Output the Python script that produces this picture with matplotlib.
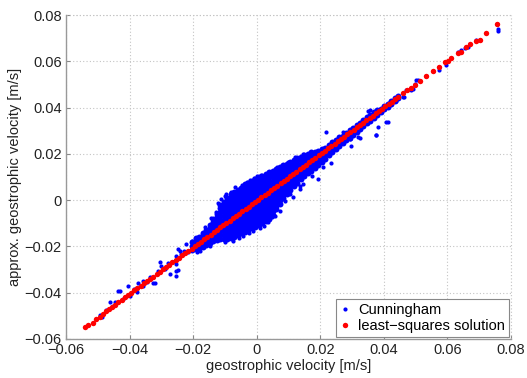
import matplotlib
matplotlib.use("Agg")
import matplotlib.pyplot as plt

# ---- data (values read in mm/s, converted to m/s below) ----
# dense central cloud of the "Cunningham" points, column by column: (x, [y values])
cloud_columns = [
    (-20.3, [-21.5, -19.8, -18.2]),
    (-19.2, [-21.0, -19.4, -17.6, -16.5]),
    (-18.1, [-20.6, -19.0, -17.3, -15.8]),
    (-17.0, [-20.2, -18.5, -16.8, -15.2, -14.0]),
    (-15.9, [-19.5, -17.8, -16.2, -14.5, -12.8]),
    (-14.8, [-18.6, -17.0, -15.3, -13.7, -12.0, -10.6]),
    (-13.7, [-17.8, -16.1, -14.5, -12.8, -11.2, -9.6, -8.2]),
    (-12.6, [-17.2, -15.5, -13.9, -12.2, -10.5, -8.9, -7.3, -5.8]),
    (-11.5, [-16.8, -15.1, -13.4, -11.8, -10.1, -8.5, -6.8, -5.2, -3.6, -2.2]),
    (-10.4, [-16.9, -15.2, -13.5, -11.9, -10.2, -8.6, -6.9, -5.3, -3.7, -2.0, -0.6]),
    (-9.3, [-17.0, -15.3, -13.7, -12.0, -10.3, -8.7, -7.0, -5.4, -3.8, -2.1, -0.5, 1.1]),
    (-8.2, [-16.4, -14.8, -13.1, -11.5, -9.8, -8.2, -6.5, -4.9, -3.2, -1.6, 0.0, 1.6, 2.8]),
    (-7.1, [-15.8, -14.2, -12.5, -10.9, -9.2, -7.6, -5.9, -4.3, -2.6, -1.0, 0.6, 2.2, 3.7]),
    (-6.0, [-15.1, -13.5, -11.8, -10.2, -8.5, -6.9, -5.2, -3.6, -1.9, -0.3, 1.3, 2.9, 4.4]),
    (-4.9, [-14.4, -12.8, -11.1, -9.5, -7.8, -6.2, -4.5, -2.9, -1.2, 0.4, 2.0, 3.6, 5.1]),
    (-3.8, [-13.6, -12.0, -10.4, -8.7, -7.1, -5.4, -3.8, -2.1, -0.5, 1.1, 2.7, 4.3, 5.8, 7.0]),
    (-2.7, [-12.9, -11.3, -9.6, -8.0, -6.3, -4.7, -3.0, -1.4, 0.2, 1.8, 3.4, 5.0, 6.5, 7.6]),
    (-1.6, [-12.2, -10.6, -8.9, -7.3, -5.6, -4.0, -2.3, -0.7, 0.9, 2.5, 4.1, 5.7, 7.2, 8.3]),
    (-0.5, [-11.4, -9.8, -8.1, -6.5, -4.8, -3.2, -1.5, 0.1, 1.7, 3.3, 4.9, 6.5, 8.0, 9.0]),
    (0.6, [-10.6, -9.0, -7.3, -5.7, -4.0, -2.4, -0.7, 0.9, 2.5, 4.1, 5.7, 7.3, 8.8, 9.9]),
    (1.7, [-9.8, -8.2, -6.5, -4.9, -3.2, -1.6, 0.1, 1.7, 3.3, 4.9, 6.5, 8.1, 9.6, 10.6]),
    (2.8, [-9.0, -7.4, -5.7, -4.1, -2.4, -0.8, 0.9, 2.5, 4.1, 5.7, 7.3, 8.9, 10.4, 11.3]),
    (3.9, [-8.0, -6.4, -4.7, -3.1, -1.4, 0.2, 1.9, 3.5, 5.1, 6.7, 8.3, 9.9, 11.3, 12.2]),
    (5.0, [-6.5, -4.9, -3.2, -1.6, 0.1, 1.7, 3.4, 5.0, 6.6, 8.2, 9.8, 11.4, 12.8]),
    (6.1, [-4.0, -2.4, -0.7, 0.9, 2.6, 4.2, 5.9, 7.5, 9.1, 10.7, 12.3, 13.5]),
    (7.2, [-1.5, 0.1, 1.8, 3.4, 5.1, 6.7, 8.4, 10.0, 11.6, 13.2, 14.2]),
    (8.3, [0.8, 2.4, 4.1, 5.7, 7.4, 9.0, 10.7, 12.3, 13.9, 15.0]),
    (9.4, [2.6, 4.2, 5.9, 7.5, 9.2, 10.8, 12.5, 14.1, 15.6]),
    (10.5, [4.3, 5.9, 7.6, 9.2, 10.9, 12.5, 14.2, 15.8, 16.6]),
    (11.6, [6.0, 7.6, 9.3, 10.9, 12.6, 14.2, 15.9, 17.4]),
    (12.7, [7.5, 9.1, 10.8, 12.4, 14.1, 15.7, 17.3, 18.4]),
    (13.8, [9.0, 10.6, 12.3, 13.9, 15.6, 17.2, 18.8]),
    (14.9, [10.3, 11.9, 13.6, 15.2, 16.9, 18.5, 19.7]),
    (16.0, [11.6, 13.2, 14.9, 16.5, 18.2, 19.8]),
    (17.1, [12.8, 14.4, 16.1, 17.7, 19.4, 20.6]),
    (18.2, [14.0, 15.6, 17.3, 18.9, 20.6]),
    (19.3, [15.2, 16.8, 18.5, 20.1, 21.4]),
    (20.4, [16.5, 18.1, 19.8, 21.4, 22.3]),
    (21.5, [17.8, 19.4, 21.1, 22.6]),
    (22.6, [19.5, 21.1, 22.8, 23.9]),
    (23.7, [20.8, 22.4, 24.1, 25.0]),
    (24.8, [22.0, 23.6, 25.3, 26.2]),
    (25.9, [23.2, 24.8, 26.4, 27.4]),
    (27.0, [24.6, 26.2, 27.8]),
    (28.1, [25.8, 27.4, 28.9]),
    (29.2, [27.0, 28.6, 30.1]),
    (30.3, [28.2, 29.8, 31.3]),
    (31.4, [29.6, 31.0, 32.4]),
    (32.5, [30.8, 32.2, 33.5]),
    (33.6, [32.0, 33.4, 34.6]),
    (34.7, [33.2, 34.6, 35.8]),
    (35.8, [34.3, 35.7, 36.9]),
    (36.9, [35.6, 36.9, 38.0]),
    (38.0, [36.8, 38.1, 39.1]),
    (39.1, [38.0, 39.3]),
    (40.2, [39.2, 40.5]),
    (41.3, [40.4, 41.6]),
    (42.4, [41.6, 42.8]),
    (43.5, [42.8, 44.0]),
    (44.6, [44.0, 45.2]),
]

# scattered "Cunningham" points outside the dense cloud (x, y) in mm/s
outlier_points = [
    (-20.5, -17.5), (-20.0, -19.7), (-22.1, -18.9), (-23.7, -23.3), (-24.7, -21.1),
    (-25.3, -24.0), (-25.8, -26.2), (-26.8, -26.9), (-25.3, -27.6), (-27.4, -31.9),
    (-25.3, -32.7), (-25.3, -30.5), (-30.5, -26.9), (-30.0, -28.3), (-31.0, -30.5),
    (-32.1, -35.6), (-35.8, -34.8), (-35.8, -37.0), (-37.3, -35.6), (-40.5, -37.0),
    (-37.8, -39.9), (-43.1, -39.4), (-39.9, -41.3), (-46.2, -43.9), (-44.7, -44.2),
    (-48.8, -50.7), (-49.4, -49.7), (-43.6, -39.1), (-32.6, -35.6), (-24.7, -30.2),
    (-24.2, -21.8), (-17.9, -21.8), (-14.8, -19.7), (-13.2, -13.2), (-11.6, -9.6),
    (-22.8, -21.9), (-21.6, -22.6), (-27.9, -27.3), (-29.0, -29.9), (-33.5, -33.1),
    (-34.4, -35.3), (-38.6, -38.2), (-41.7, -42.5), (-45.3, -45.6), (-47.4, -47.3),
    (-11.1, 0.5), (-8.0, 3.4), (-9.5, 2.6), (-6.9, 5.6), (-5.3, 4.8), (-3.2, 7.7),
    (-1.0, 9.6), (1.2, 10.9), (-14.3, -7.9), (-12.9, -5.0), (-16.4, -11.6),
    (-7.6, -17.6), (-4.2, -15.3), (-1.1, -13.2), (2.3, -11.0), (-18.7, -22.6),
    (-12.2, -1.4), (-10.0, 1.9), (-4.6, 6.4), (-2.2, 8.6), (0.2, 10.3),
    (-9.9, -18.1), (-5.6, -16.4), (-2.4, -14.2), (0.9, -12.0), (3.4, -9.6),
    (5.7, -6.7), (4.8, -7.1), (7.3, -4.5), (8.8, -0.2), (10.4, 2.8), (11.4, 1.2),
    (13.5, 4.8), (14.6, 7.0), (19.3, 9.2), (11.3, 7.7), (13.5, 6.3),
    (8.3, 14.9), (9.8, 16.3), (14.6, 20.0), (16.2, 20.0), (19.8, 21.4),
    (6.4, 14.4), (12.0, 18.6), (17.4, 10.6), (21.0, 14.3),
    (23.5, 16.1), (21.9, 29.6), (29.8, 23.3), (31.9, 27.2), (24.5, 25.7),
    (26.1, 25.0), (27.1, 29.3), (29.2, 26.5), (30.8, 30.1), (32.4, 26.9),
    (33.4, 32.2), (34.5, 34.4), (35.0, 38.7), (35.5, 39.0), (37.4, 28.2),
    (37.6, 28.3), (38.1, 31.8), (40.8, 33.7), (41.3, 33.7), (39.2, 38.7),
    (40.8, 40.1), (41.8, 42.3), (43.9, 43.0), (46.0, 44.5), (46.5, 44.5),
    (47.1, 47.4), (48.6, 47.4), (48.6, 48.5), (49.2, 48.1), (49.7, 50.3),
    (50.2, 51.7), (50.7, 51.7), (53.4, 53.8), (55.4, 56.0), (57.3, 56.4),
    (57.5, 57.4), (59.7, 58.2), (59.7, 59.6), (63.3, 63.9), (64.4, 64.7),
    (65.4, 65.7), (66.4, 66.1), (68.9, 69.0), (70.1, 69.0),
    (75.7, 76.2), (75.9, 74.0), (75.9, 73.0),
]

# least-squares solution points (mm/s)
lsq_x = [-54.1, -53.0, -51.5, -50.4, -49.4, -48.5, -47.5, -46.5, -45.5, -44.5,
         -43.5, -42.5, -41.5, -40.5, -39.5, -38.5, -37.5, -36.5, -35.5, -34.5,
         -33.5, -32.5, -31.5, -30.5, -29.5, -28.5, -27.5, -26.5, -25.5, -24.5,
         -23.5, -22.5, -21.5, -20.5, -19.5, -18.5, -17.5, -16.5, -15.5, -14.5,
         -13.5, -12.5, -11.5, -10.5, -9.5, -8.5, -7.5, -6.5, -5.5, -4.5,
         -3.5, -2.5, -1.5, -0.5, 0.5, 1.5, 2.5, 3.5, 4.5, 5.5,
         6.5, 7.5, 8.5, 9.5, 10.5, 11.5, 12.5, 13.5, 14.5, 15.5,
         16.5, 17.5, 18.5, 19.5, 20.5, 21.5, 22.5, 23.5, 24.5, 25.5,
         26.5, 27.5, 28.5, 29.5, 30.5, 31.5, 32.5, 33.5, 34.5, 35.5,
         36.5, 37.5, 38.5, 39.5, 40.5, 41.5, 42.5, 43.5, 44.5, 46.0,
         47.3, 48.5, 49.8, 51.5, 53.4, 55.4, 57.5, 59.1, 60.2, 61.2,
         63.3, 64.4, 65.9, 67.0, 69.1, 70.1, 72.0, 75.7]
lsq_y = [-55.0, -53.8, -52.9, -51.4, -50.4, -49.1, -48.1, -47.1, -46.1, -45.1,
         -44.1, -43.0, -42.0, -41.0, -40.0, -39.0, -38.0, -37.0, -36.0, -35.0,
         -34.0, -33.0, -32.0, -31.0, -29.9, -28.9, -27.9, -26.9, -25.9, -24.9,
         -23.9, -22.9, -21.9, -20.9, -19.9, -18.9, -17.9, -16.9, -15.9, -14.9,
         -13.8, -12.8, -11.8, -10.8, -9.8, -8.8, -7.8, -6.8, -5.8, -4.8,
         -3.8, -2.8, -1.8, -0.8, 0.25, 1.3, 2.3, 3.3, 4.3, 5.3,
         6.3, 7.3, 8.3, 9.3, 10.3, 11.3, 12.3, 13.3, 14.4, 15.4,
         16.4, 17.4, 18.4, 19.4, 20.4, 21.4, 22.4, 23.4, 24.4, 25.4,
         26.4, 27.4, 28.4, 29.5, 30.5, 31.5, 32.5, 33.5, 34.5, 35.5,
         36.5, 37.5, 38.5, 39.5, 40.5, 41.5, 42.5, 43.5, 44.6, 46.1,
         47.4, 48.6, 49.9, 51.6, 53.8, 56.0, 57.4, 59.5, 60.3, 61.3,
         63.5, 64.2, 66.1, 67.3, 68.9, 69.3, 72.1, 76.0]

x_ticks = [-0.06, -0.04, -0.02, 0, 0.02, 0.04, 0.06, 0.08]
y_ticks = [-0.06, -0.04, -0.02, 0, 0.02, 0.04, 0.06, 0.08]
x_tick_labels = ["\u22120.06", "\u22120.04", "\u22120.02", "0", "0.02", "0.04", "0.06", "0.08"]
y_tick_labels = ["\u22120.06", "\u22120.04", "\u22120.02", "0", "0.02", "0.04", "0.06", "0.08"]

# ---- build series ----
core_x, core_y = [], []
for cx, ys in cloud_columns:
    for yv in ys:
        core_x.append(cx * 1e-3)
        core_y.append(yv * 1e-3)
out_x = [p[0] * 1e-3 for p in outlier_points]
out_y = [p[1] * 1e-3 for p in outlier_points]
red_x = [v * 1e-3 for v in lsq_x]
red_y = [v * 1e-3 for v in lsq_y]

plt.rcParams['font.family'] = ['Liberation Sans', 'DejaVu Sans']
fig = plt.figure(figsize=(5.27, 3.78), dpi=100)
ax = fig.add_axes([0.1252, 0.1032, 0.8444, 0.8571])

BLUE = '#0000ff'
RED = '#ff0000'
ax.plot(core_x, core_y, linestyle='none', marker='o', markersize=4.3,
        color=BLUE, markeredgewidth=0)
ax.plot(out_x, out_y, linestyle='none', marker='o', markersize=3.0,
        color=BLUE, markeredgewidth=0, label='Cunningham')
ax.plot(red_x, red_y, linestyle='none', marker='o', markersize=3.9,
        color=RED, markeredgewidth=0, label='least\u2212squares solution')

ax.set_xlim(-0.06, 0.08)
ax.set_ylim(-0.06, 0.08)
ax.set_xticks(x_ticks)
ax.set_xticklabels(x_tick_labels)
ax.set_yticks(y_ticks)
ax.set_yticklabels(y_tick_labels)
ax.tick_params(direction='in', length=3, labelsize=10.5, colors='#222222',
               color='#888888', pad=3)
ax.grid(True, linestyle=(0, (1, 2)), color='#c4c4c4', linewidth=0.8)
ax.set_axisbelow(True)
for s in ['top', 'right']:
    ax.spines[s].set_visible(False)
for s in ['left', 'bottom']:
    ax.spines[s].set_color('#999999')
    ax.spines[s].set_linewidth(1.0)
# dotted lines at the upper/right limits
ax.axhline(0.08, linestyle=(0, (1, 2)), color='#c4c4c4', linewidth=0.8, clip_on=False)
ax.axvline(0.08, linestyle=(0, (1, 2)), color='#c4c4c4', linewidth=0.8, clip_on=False)

ax.set_xlabel('geostrophic velocity [m/s]', fontsize=10.5, color='#222222', labelpad=1)
ax.set_ylabel('approx. geostrophic velocity [m/s]', fontsize=10.5, color='#222222', labelpad=2)

leg = ax.legend(loc='lower right', fontsize=10.5, frameon=True, fancybox=False,
                edgecolor='#888888', framealpha=1, borderpad=0.25, handlelength=0.8,
                handletextpad=0.5, labelspacing=0.15, borderaxespad=0.15,
                markerscale=1.0)
leg.get_frame().set_linewidth(0.8)

fig.savefig('out.png', dpi=100)
